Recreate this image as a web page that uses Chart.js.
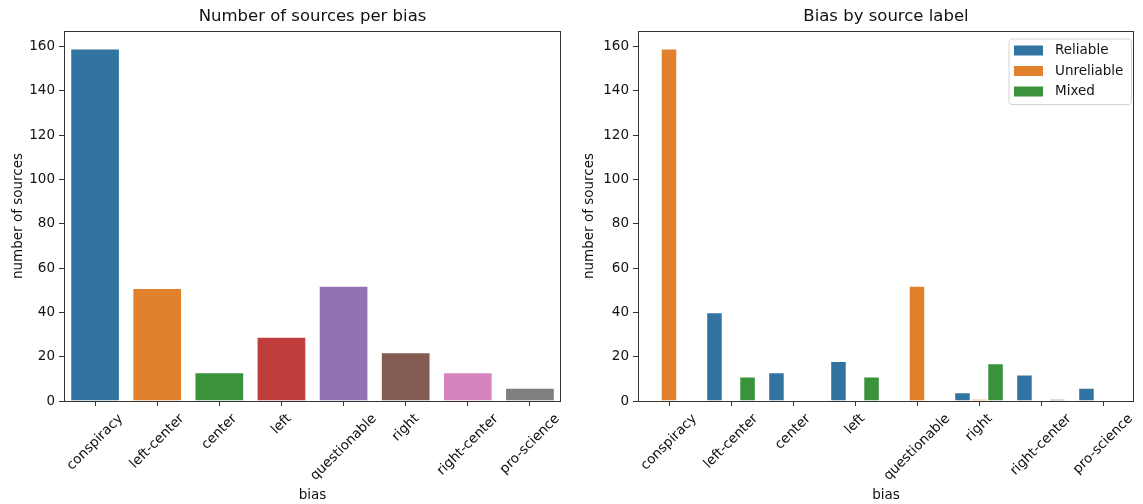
<!DOCTYPE html>
<html>
<head>
<meta charset="utf-8">
<script src="https://cdn.jsdelivr.net/npm/chart.js@4.4.1/dist/chart.umd.min.js"></script>
<style>
  body { margin: 0; background: #fff; }
  .panel { position: absolute; top: 0; height: 504px; }
  #left-panel { left: 0; width: 571px; }
  #right-panel { left: 571px; width: 572px; }
</style>
</head>
<body>
<div class="panel" id="left-panel"><canvas id="bias-count"></canvas></div>
<div class="panel" id="right-panel"><canvas id="bias-label"></canvas></div>
<script>
const categories = ['conspiracy', 'left-center', 'center', 'left', 'questionable', 'right', 'right-center', 'pro-science'];
const sourcesPerBias = [159, 51, 13, 29, 52, 22, 13, 6];
const reliable = [0, 40, 13, 18, 0, 4, 12, 6];
const unreliable = [159, 0, 0, 0, 52, 1, 0, 0];
const mixed = [0, 11, 0, 11, 0, 17, 1, 0];
const yTicks = [0, 20, 40, 60, 80, 100, 120, 140, 160];

const palette = ['#3274a1', '#e1812c', '#3a923a', '#c03d3e', '#9372b2', '#845b53', '#d684bd', '#7f7f7f'];
const FONT = 'DejaVu Sans';
const INK = '#111';
const AXIS = '#333';

Chart.defaults.font.family = FONT;
Chart.defaults.color = INK;

// frame on all four sides, like matplotlib spines
const framePlugin = {
    id: 'frame',
    afterDatasetsDraw(chart) {
        const {ctx, chartArea: a} = chart;
        ctx.save();
        ctx.strokeStyle = AXIS;
        ctx.lineWidth = 1;
        ctx.strokeRect(Math.round(a.left) + 0.5, Math.round(a.top) + 0.5,
            Math.round(a.right - a.left) - 1, Math.round(a.bottom - a.top));
        ctx.restore();
    }
};

// title centred over the plot area, not the whole canvas
const axesTitle = {
    id: 'axesTitle',
    afterDraw(chart, args, opts) {
        const {ctx, chartArea: a} = chart;
        ctx.save();
        ctx.font = '16.5px "' + FONT + '"';
        ctx.fillStyle = INK;
        ctx.textAlign = 'center';
        ctx.textBaseline = 'middle';
        ctx.fillText(opts.text, (a.left + a.right) / 2, 17);
        ctx.restore();
    }
};

// x labels rotated 45 deg and centred on the tick (matplotlib ha='center')
const xLabelPlugin = {
    id: 'xlabels',
    afterDraw(chart) {
        const {ctx} = chart;
        const xs = chart.scales.x;
        const size = 13.5;
        ctx.save();
        ctx.font = size + 'px "' + FONT + '"';
        ctx.fillStyle = INK;
        ctx.textAlign = 'center';
        ctx.textBaseline = 'middle';
        const top = chart.chartArea.bottom + 10;
        categories.forEach((lab, i) => {
            const w = ctx.measureText(lab).width;
            const h = size * 1.16;
            const d = (w + h) / Math.SQRT2;
            ctx.save();
            ctx.translate(xs.getPixelForTick(i), top + d / 2);
            ctx.rotate(-Math.PI / 4);
            ctx.fillText(lab, 0, 0);
            ctx.restore();
        });
        ctx.restore();
    }
};

// legend box inside the plot, upper right
const innerLegend = {
    id: 'innerLegend',
    afterDraw(chart) {
        const {ctx, chartArea: a} = chart;
        const bw = 122.5, bh = 65.5;
        const bx = a.right - 3 - bw, by = a.top + 7.5;
        ctx.save();
        ctx.beginPath();
        ctx.roundRect(bx + 0.5, by + 0.5, bw, bh, 3);
        ctx.fillStyle = 'rgba(255,255,255,0.8)';
        ctx.fill();
        ctx.strokeStyle = '#d4d4d4';
        ctx.lineWidth = 1;
        ctx.stroke();
        ctx.font = '13.5px "' + FONT + '"';
        ctx.textBaseline = 'middle';
        ctx.textAlign = 'left';
        chart.data.datasets.forEach((ds, i) => {
            const cy = by + 12 + i * 20.5;
            ctx.fillStyle = ds.backgroundColor;
            ctx.fillRect(bx + 5.5, cy - 5, 29, 10);
            ctx.fillStyle = INK;
            ctx.fillText(ds.label, bx + 46.5, cy);
        });
        ctx.restore();
    }
};

function baseOptions(title, yWidth, padRight) {
    return {
        responsive: true,
        maintainAspectRatio: false,
        animation: false,
        layout: { padding: { left: 0, right: padRight, top: 31, bottom: 0 } },
        plugins: {
            legend: { display: false },
            tooltip: { enabled: false },
            title: { display: false },
            axesTitle: { text: title }
        },
        scales: {
            x: {
                grid: { display: true, drawOnChartArea: false, drawTicks: true, tickLength: 5, offset: false, color: AXIS },
                border: { display: false },
                ticks: { display: false },
                title: { display: true, text: 'bias', color: INK, font: { size: 13.5 }, padding: { top: 0, bottom: 0 } },
                afterFit: s => { s.height = 103; }
            },
            y: {
                min: 0,
                max: 166.95,
                afterBuildTicks: s => { s.ticks = yTicks.map(v => ({ value: v })); },
                grid: { drawOnChartArea: false, drawTicks: true, tickLength: 5, color: AXIS },
                border: { display: false },
                ticks: { padding: 4, color: INK, font: { size: 13.5 } },
                title: { display: true, text: 'number of sources', color: INK, font: { size: 13.5 }, padding: { top: 10, bottom: 0 } },
                afterFit: s => { s.width = yWidth; }
            }
        }
    };
}

new Chart(document.getElementById('bias-count'), {
    type: 'bar',
    data: {
        labels: categories,
        datasets: [{
            label: 'number of sources',
            data: sourcesPerBias,
            backgroundColor: palette,
            borderColor: 'rgba(255,255,255,0.2)',
            borderWidth: 1,
            categoryPercentage: 0.8,
            barPercentage: 1.0
        }]
    },
    options: baseOptions('Number of sources per bias', 64, 10),
    plugins: [framePlugin, xLabelPlugin, axesTitle]
});

const series = [
    { label: 'Reliable', data: reliable, color: palette[0] },
    { label: 'Unreliable', data: unreliable, color: palette[1] },
    { label: 'Mixed', data: mixed, color: palette[2] }
];

new Chart(document.getElementById('bias-label'), {
    type: 'bar',
    data: {
        labels: categories,
        datasets: series.map(s => ({
            label: s.label,
            data: s.data,
            backgroundColor: s.color,
            borderColor: 'rgba(255,255,255,0.2)',
            borderWidth: 1,
            categoryPercentage: 0.8,
            barPercentage: 1.0
        }))
    },
    options: baseOptions('Bias by source label', 67, 9),
    plugins: [framePlugin, xLabelPlugin, innerLegend, axesTitle]
});
</script>
</body>
</html>
